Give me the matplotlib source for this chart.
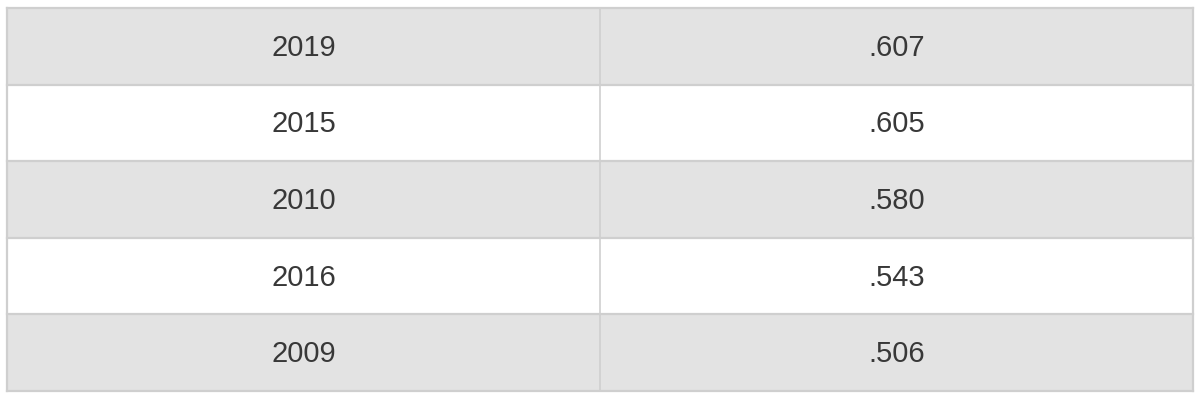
import matplotlib.pyplot as plt
from matplotlib.patches import Rectangle

# Table data
years = ['2019', '2015', '2010', '2016', '2009']
values = ['.607', '.605', '.580', '.543', '.506']

W, H = 1200, 403
fig = plt.figure(figsize=(W / 100, H / 100), dpi=100)
ax = fig.add_axes([0, 0, 1, 1])
ax.set_xlim(0, W)
ax.set_ylim(H, 0)
ax.axis('off')

left, right = 7, 1193
top, bottom = 8, 391
mid = 600
row_h = (bottom - top) / len(years)
border = '#cfcfcf'

for i, (yr, val) in enumerate(zip(years, values)):
    y0 = top + i * row_h
    face = '#e3e3e3' if i % 2 == 0 else 'white'
    ax.add_patch(Rectangle((left, y0), right - left, row_h, facecolor=face,
                           edgecolor='none', zorder=1))
    ax.text((left + mid) / 2, y0 + row_h / 2 + 1.5, yr, ha='center', va='center',
            fontsize=21, color='#383838', family='Liberation Sans', zorder=3)
    ax.text((mid + right) / 2, y0 + row_h / 2 + 1.5, val, ha='center', va='center',
            fontsize=21, color='#383838', family='Liberation Sans', zorder=3)
    ax.plot([left, right], [y0, y0], color=border, lw=1.6, zorder=2)

ax.plot([left, right], [bottom, bottom], color=border, lw=1.6, zorder=2)
ax.plot([left, left], [top, bottom], color=border, lw=1.6, zorder=2)
ax.plot([right, right], [top, bottom], color=border, lw=1.6, zorder=2)
ax.plot([mid, mid], [top, bottom], color=border, lw=1.2, zorder=2)

fig.savefig('out.png', dpi=100, facecolor='white')
